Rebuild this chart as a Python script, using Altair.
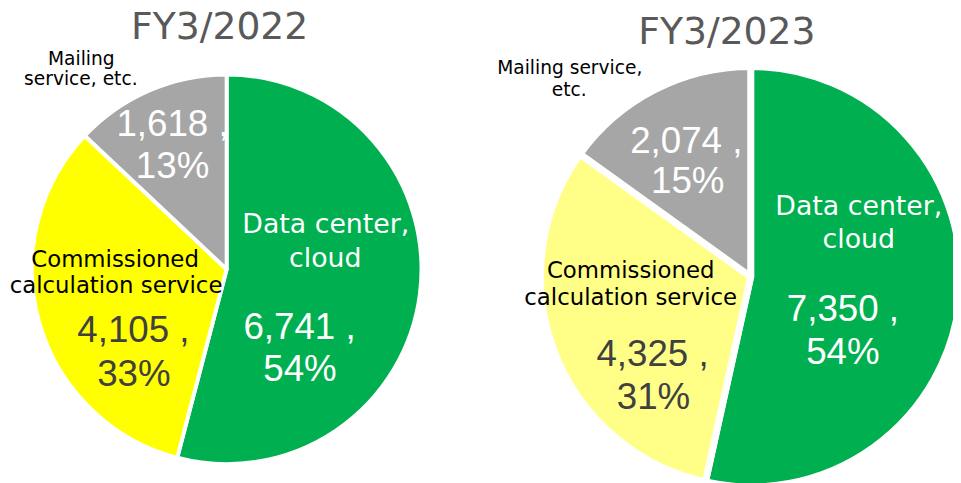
import altair as alt
import pandas as pd

# ---- data ----
categories = ["Data center, cloud", "Commissioned calculation service", "Mailing service, etc."]
values_2022 = [6741, 4105, 1618]
values_2023 = [7350, 4325, 2074]
pct_2022 = ["54%", "33%", "13%"]
pct_2023 = ["54%", "31%", "15%"]
name_lines_2022 = [["Data center,", "cloud"], ["Commissioned", "calculation service"], ["Mailing", "service, etc."]]
name_lines_2023 = [["Data center,", "cloud"], ["Commissioned", "calculation service"], ["Mailing service,", "etc."]]
titles = ["FY3/2022", "FY3/2023"]

# ---- styles ----
colors_2022 = ["#00B050", "#FFFF00", "#A6A6A6"]
colors_2023 = ["#00B050", "#FFFF88", "#A6A6A6"]
name_font = "DejaVu Sans"
num_font = "Liberation Sans"
name_sizes = [27, 23, 18.8]
num_size = 37
title_size = 38
name_colors = ["#FFFFFF", "#000000", "#000000"]
num_colors = ["#FFFFFF", "#404040", "#FFFFFF"]

W, H = 953, 475


def make_df(values, pcts, lines):
    return pd.DataFrame({
        "idx": list(range(len(categories))),
        "cat": categories,
        "value": values,
        "num": [f"{v:,} ," for v in values],
        "pct": pcts,
        "name1": [l[0] for l in lines],
        "name2": [l[1] for l in lines],
    })


# layout: pie centre, outer radius, stroke, label anchor radius, per-slice offsets
pies = [
    dict(df=make_df(values_2022, pct_2022, name_lines_2022), colors=colors_2022,
         cx=220.5, cy=261.5, R=196.5, sw=4, r=100,
         offs=[[(0.8, -49.3), (0.3, -15.3), (-25.7, 57.7), (-25.2, 99.7)],
               [(-16.4, -30.1), (-15.4, -4.1), (2.1, 45.9), (2.6, 89.9)],
               [(-106.9, -114.7), (-107.4, -93.7), (-14.9, -42.7), (-14.9, -0.7)]],
         title=titles[0], tx=213.5, ty=29),
    dict(df=make_df(values_2023, pct_2023, name_lines_2023), colors=colors_2023,
         cx=749, cy=269, R=212, sw=7, r=110,
         offs=[[(-0.35, -73.9), (-0.35, -40.9), (-16.4, 33.1), (-16.4, 76.1)],
               [(-18.3, -38.3), (-18.3, -10.3), (3.7, 50.7), (4.7, 93.7)],
               [(-132.3, -106.1), (-132.8, -84.1), (-14.8, -27.1), (-13.3, 13.9)]],
         title=titles[1], tx=725, ty=34),
]

pie_layers = []
for p in pies:
    base = alt.Chart(p["df"]).encode(
        theta=alt.Theta("value:Q", stack=True),
        order=alt.Order("idx:Q"),
        x=alt.value(p["cx"]),
        y=alt.value(p["cy"]),
    )
    arc = base.mark_arc(outerRadius=p["R"], stroke="white", strokeWidth=p["sw"], strokeJoin="round").encode(
        color=alt.Color("cat:N", scale=alt.Scale(domain=categories, range=p["colors"]), legend=None),
    )
    layers = [arc]
    for i in range(len(categories)):
        fields = ["name1", "name2", "num", "pct"]
        for j, f in enumerate(fields):
            dx, dy = p["offs"][i][j]
            is_name = j < 2
            t = base.mark_text(
                radius=p["r"], dx=dx, dy=dy, align="center", baseline="alphabetic",
                font=name_font if is_name else num_font,
                fontSize=name_sizes[i] if is_name else num_size,
                color=name_colors[i] if is_name else num_colors[i],
            ).encode(
                detail="idx:N",
                text=alt.condition(alt.datum.idx == i, alt.Text(f"{f}:N"), alt.value("")),
            )
            layers.append(t)
    title = alt.Chart(pd.DataFrame({"t": [p["title"]]})).mark_text(
        font=name_font, fontSize=title_size, color="#595959", align="center", baseline="alphabetic"
    ).encode(text="t:N", x=alt.value(p["tx"]), y=alt.value(p["ty"]))
    layers.append(title)
    pie_layers.append(alt.layer(*layers))

chart = alt.layer(*pie_layers).resolve_scale(theta="independent", color="independent").properties(
    width=W, height=H, padding=0, autosize="none"
).configure_view(stroke=None)

chart.save("out.html", embed_options={"renderer": "svg", "actions": False})
